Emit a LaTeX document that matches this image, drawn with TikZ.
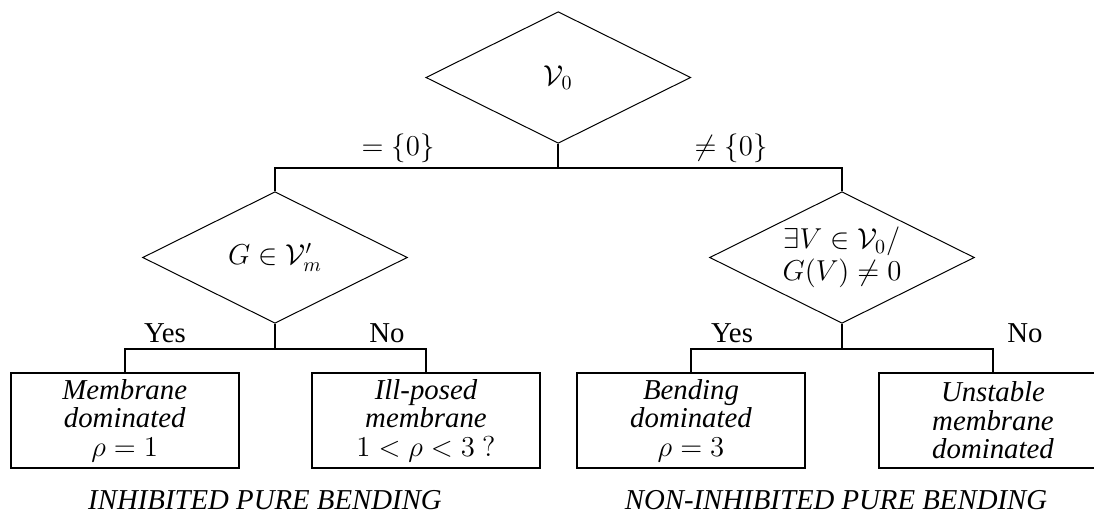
\documentclass[tikz,border=0pt]{standalone}
\usepackage[no-math]{fontspec}
\setmainfont{Liberation Serif}
\usetikzlibrary{shapes.geometric}
\begin{document}
\begin{tikzpicture}[x=0.5pt,y=-0.5pt,
  every node/.style={font=\fontsize{14.4}{14.8}\selectfont},
  dec/.style={draw, diamond, line width=0.5pt, minimum width=132.4pt, minimum height=65.8pt, inner sep=0pt, aspect=2, align=center},
  leaf/.style={draw, rectangle, line width=1.1pt, minimum width=114pt, minimum height=47.8pt, inner sep=0pt, align=center, font=\fontsize{14.4}{14.3}\selectfont\itshape},
  conn/.style={line width=1.1pt},
  lab/.style={inner sep=0pt}]
\clip (0,0) rectangle (1094,520);
% decisions
\node[dec] (top) at (558.3,77.5) {$\mathcal{V}_0$};
\node[dec] (L) at (275,257.5) {$G\in\mathcal{V}'_m$};
\node[dec] (R) at (842,257.5) {$\exists V\in\mathcal{V}_0/$\\[1pt]$G(V)\neq 0$};
% junctions
\coordinate (j0) at (558.3,167.7);
\coordinate (jL) at (275,349.3);
\coordinate (jR) at (842,349.3);
% leaves
\node[leaf] (b1) at (124.7,420.5) {Membrane\\dominated\\$\rho=1$};
\node[leaf] (b2) at (426,420.5) {Ill-posed\\membrane\\$1<\rho<3\ ?$};
\node[leaf] (b3) at (691,420.5) {Bending\\dominated\\$\rho=3$};
\node[leaf] (b4) at (993,420.5) {Unstable\\membrane\\dominated};
% connectors
\draw[conn] (top.south) -- (j0);
\draw[conn] (L.north) |- (j0) -| (R.north);
\draw[conn] (L.south) -- (jL);
\draw[conn] (b1.north) |- (jL) -| (b2.north);
\draw[conn] (R.south) -- (jR);
\draw[conn] (b3.north) |- (jR) -| (b4.north);
% labels
\node[lab] (eq) at (398,148) {$=\{0\}$};
\node[lab] (neq) at (731,148) {$\neq\{0\}$};
\node[lab] (y1) at (165,333) {Yes};
\node[lab] (n1) at (387,333) {No};
\node[lab] (y2) at (732,333) {Yes};
\node[lab] (n2) at (1025,333) {No};
\node (inh) at (265,500) {\itshape INHIBITED PURE BENDING};
\node (ninh) at (836,500) {\itshape NON-INHIBITED PURE BENDING};
\end{tikzpicture}
\end{document}
